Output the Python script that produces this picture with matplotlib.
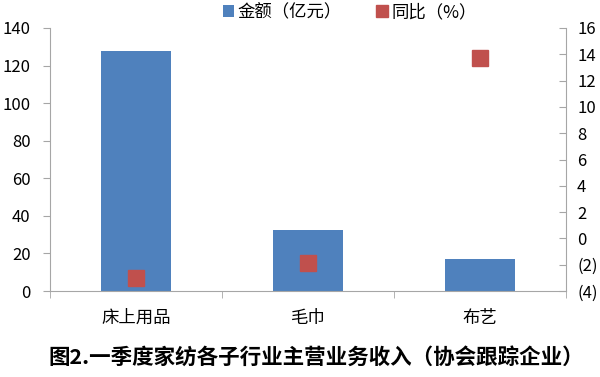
import matplotlib.pyplot as plt
import numpy as np
from matplotlib.ticker import FuncFormatter

plt.rcParams['font.family'] = ['Noto Sans CJK SC', 'DejaVu Sans']

categories = ["床上用品", "毛巾", "布艺"]
amount = [127.7, 32.6, 17.0]      # 金额（亿元）
growth = [-3.0, -1.9, 13.7]       # 同比（%）
bar_label = "金额（亿元）"
dot_label = "同比（%）"
title = "图2.一季度家纺各子行业主营业务收入（协会跟踪企业）"

blue = "#4f81bd"
red = "#c0504d"
grey = "#a6a6a6"

fig = plt.figure(figsize=(6, 3.77), dpi=100)
ax1 = fig.add_axes([50 / 600, 86 / 377, 516 / 600, 263 / 377])
x = np.arange(len(categories))
ax1.bar(x, amount, width=0.41, color=blue, label=bar_label, zorder=2)
ax1.set_xlim(-0.5, len(categories) - 0.5)
ax1.set_ylim(0, 140)
ax1.set_yticks(np.arange(0, 141, 20))
ax1.set_xticks(x)
ax1.set_xticklabels(categories)
ax1.set_xticks(np.arange(-0.5, len(categories), 1), minor=True)
ax1.tick_params(axis='x', which='major', length=0, pad=13, labelsize=12.5, colors='#000000')
ax1.tick_params(axis='x', which='minor', length=5, color=grey, direction='out')
ax1.tick_params(axis='y', length=5, color=grey, labelsize=12, pad=9)

ax2 = ax1.twinx()
ax2.plot(x, growth, linestyle='none', marker='s', markersize=11, color=red, label=dot_label, zorder=3)
ax2.set_ylim(-4, 16)
ax2.set_yticks(np.arange(-4, 17, 2))
ax2.yaxis.set_major_formatter(FuncFormatter(lambda v, p: "(%d)" % abs(v) if v < 0 else "%d" % v))
ax2.tick_params(axis='y', length=5, color=grey, labelsize=12, pad=8, direction='in')

for ax in (ax1, ax2):
    ax.spines['top'].set_visible(False)
    for s in ('left', 'right', 'bottom'):
        ax.spines[s].set_color(grey)
ax1.spines['right'].set_visible(False)
ax2.spines['left'].set_visible(False)
ax2.spines['bottom'].set_visible(False)

h1, l1 = ax1.get_legend_handles_labels()
h2, l2 = ax2.get_legend_handles_labels()
fig.legend(h1 + h2, l1 + l2, loc='center', bbox_to_anchor=(0.583, 0.968), ncol=2,
           frameon=False, fontsize=12.5, handlelength=0.65, handleheight=0.65,
           handletextpad=0.2, columnspacing=2.0, markerscale=0.75,
           borderaxespad=0, borderpad=0)

fig.text(0.527, 0.053, title, ha='center', va='center', fontsize=15.5, fontweight='bold')

fig.savefig("out.png", dpi=100)
